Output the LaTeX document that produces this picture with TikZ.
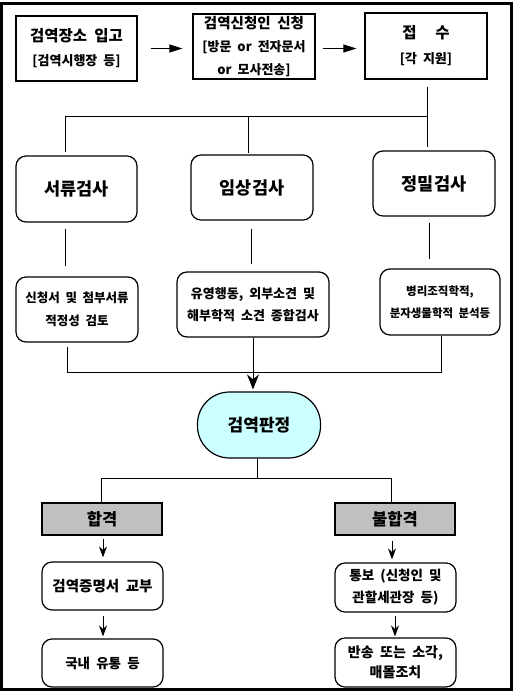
\documentclass[tikz,border=0pt]{standalone}
\usepackage{fontspec}
\setmainfont{Noto Sans CJK KR}[WordSpace=2]
\usetikzlibrary{arrows.meta}
\definecolor{judgecyan}{RGB}{204,255,255}
\definecolor{resultgray}{RGB}{192,192,192}
\newcommand{\ksz}[2]{\fontsize{#1}{#2}\selectfont}
\tikzset{
  sqbox/.style={draw,line width=1.2pt,align=center,inner sep=0pt},
  rdbox/.style={sqbox,rounded corners=10pt},
  link/.style={line width=0.9pt},
  toparrow/.style={link,-{Triangle[length=13pt,width=8pt]}},
  downarrow/.style={link,-{Stealth[length=11pt,width=8pt]}}
}
\begin{document}
\begin{tikzpicture}[x=1pt,y=-1pt]
\useasboundingbox (0,0) rectangle (515,694);
\draw[line width=3pt] (1.5,3.5) rectangle (511.5,689.5);
% applying
\node[sqbox,font=\bfseries\ksz{13}{24},minimum width=121pt,minimum height=65pt] (entry) at (76.5,48.5) {{\ksz{15.5}{24}검역장소 입고}\\{}[검역시행장 등]};
\node[sqbox,font=\bfseries\ksz{13}{23},minimum width=122pt,minimum height=65pt] (apply) at (254,46.5) {{\ksz{14.5}{23}검역신청인 신청}\\{}[방문 or 전자문서\\or 모사전송]};
\node[sqbox,font=\bfseries\ksz{13}{25},minimum width=122pt,minimum height=66pt] (recv) at (426,46) {{\ksz{15.5}{25}접\hspace{1.2em}수}\\{}[각 지원]};
\draw[toparrow,shorten <=13pt,shorten >=10pt] (entry.east) -- (apply.west |- entry.east);
\draw[toparrow,shorten <=7pt,shorten >=8pt] (apply.east |- entry.east) -- (recv.west |- entry.east);
% inspections
\node[rdbox,font=\bfseries\ksz{17.5}{20},minimum width=121pt,minimum height=66pt] (doc) at (76.5,189) {서류검사};
\node[rdbox,font=\bfseries\ksz{17.5}{20},minimum width=122pt,minimum height=65pt] (clin) at (252,187.5) {임상검사};
\node[rdbox,font=\bfseries\ksz{17.5}{20},minimum width=122pt,minimum height=65pt] (prec) at (434,183.5) {정밀검사};
\coordinate (bl) at (65,116);
\coordinate (bm) at (248,116);
\coordinate (br) at (427,116);
\draw[link,shorten <=7pt] (br |- recv.south) -- (br) -- (bl);
\draw[link,shorten >=3pt] (bl) -- (bl |- doc.north);
\draw[link,shorten >=1pt] (bm) -- (bm |- clin.north);
\draw[link,shorten >=3pt] (br) -- (br |- prec.north);
% details
\node[rdbox,font=\bfseries\ksz{12.5}{23},minimum width=122pt,minimum height=65pt] (docd) at (77,309.5) {신청서 및 첨부서류\\적정성 검토};
\node[rdbox,font=\bfseries\ksz{13}{22},minimum width=152pt,minimum height=65pt] (clind) at (253,304.5) {유영행동, 외부소견 및\\해부학적 소견 종합검사};
\node[rdbox,font=\bfseries\ksz{11.5}{22},minimum width=120pt,minimum height=66pt] (precd) at (440,302) {병리조직학적,\\분자생물학적 분석등};
\draw[link,shorten <=6pt,shorten >=10pt] ([xshift=-11.5pt]doc.south) -- ([xshift=-12pt]docd.north);
\draw[link,shorten <=8pt,shorten >=7pt] ([xshift=-1pt]clin.south) -- ([xshift=-2pt]clind.north);
\draw[link,shorten <=6pt,shorten >=9pt] ([xshift=-5pt]prec.south) -- ([xshift=-11pt]precd.north);
% judgement
\node[sqbox,fill=judgecyan,rounded corners=32pt,font=\bfseries\ksz{17}{20},minimum width=123pt,minimum height=66pt] (judge) at (259,425) {검역판정};
\coordinate (jl) at (67,372);
\coordinate (jm) at (253,372);
\coordinate (jr) at (441,372);
\draw[link,shorten <=4pt] ([xshift=-10pt]docd.south) -- (jl) -- (jr) -- ([xshift=1pt]precd.south);
\draw[link] (clind.south) -- (jm);
\draw[link,-{Stealth[length=15pt,width=12pt]},shorten >=2pt] (jm) -- (jm |- judge.north);
% results
\node[sqbox,fill=resultgray,font=\bfseries\ksz{16.5}{20},minimum width=120pt,minimum height=32pt] (pass) at (102,519) {합격};
\node[sqbox,fill=resultgray,font=\bfseries\ksz{16.5}{20},minimum width=120pt,minimum height=32pt] (fail) at (395,519) {불합격};
\coordinate (sl) at (101,478);
\coordinate (sr) at (391,478);
\draw[link] ([xshift=-2pt]judge.south) -- ([xshift=-2pt]judge.south |- sl);
\draw[link] (pass.north -| sl) -- (sl) -- (sr) -- (sr |- fail.north);
\node[rdbox,font=\bfseries\ksz{14.5}{20},minimum width=121pt,minimum height=48pt] (cert) at (102.5,586) {검역증명서 교부};
\node[rdbox,font=\bfseries\ksz{13.5}{22},minimum width=121pt,minimum height=49pt] (notify) at (395.5,587.5) {통보 (신청인 및\\관할세관장 등)};
\node[rdbox,font=\bfseries\ksz{13.5}{20},minimum width=121pt,minimum height=48pt] (dist) at (102.5,663) {국내 유통 등};
\node[rdbox,font=\bfseries\ksz{14}{20},minimum width=121pt,minimum height=49pt] (dispose) at (395.5,662.5) {반송 또는 소각,\\매몰조치};
\draw[downarrow,shorten <=3pt,shorten >=4pt] ([xshift=1pt]pass.south) -- ([xshift=0.5pt]cert.north);
\draw[downarrow,shorten <=5pt,shorten >=3pt] ([xshift=-3pt]fail.south) -- ([xshift=-3.5pt]notify.north);
\draw[downarrow,shorten <=5pt,shorten >=2pt] ([xshift=0.5pt]cert.south) -- ([xshift=0.5pt]dist.north);
\draw[downarrow,shorten <=3pt,shorten >=1pt] ([xshift=-0.5pt]notify.south) -- ([xshift=-0.5pt]dispose.north);
\end{tikzpicture}
\end{document}
